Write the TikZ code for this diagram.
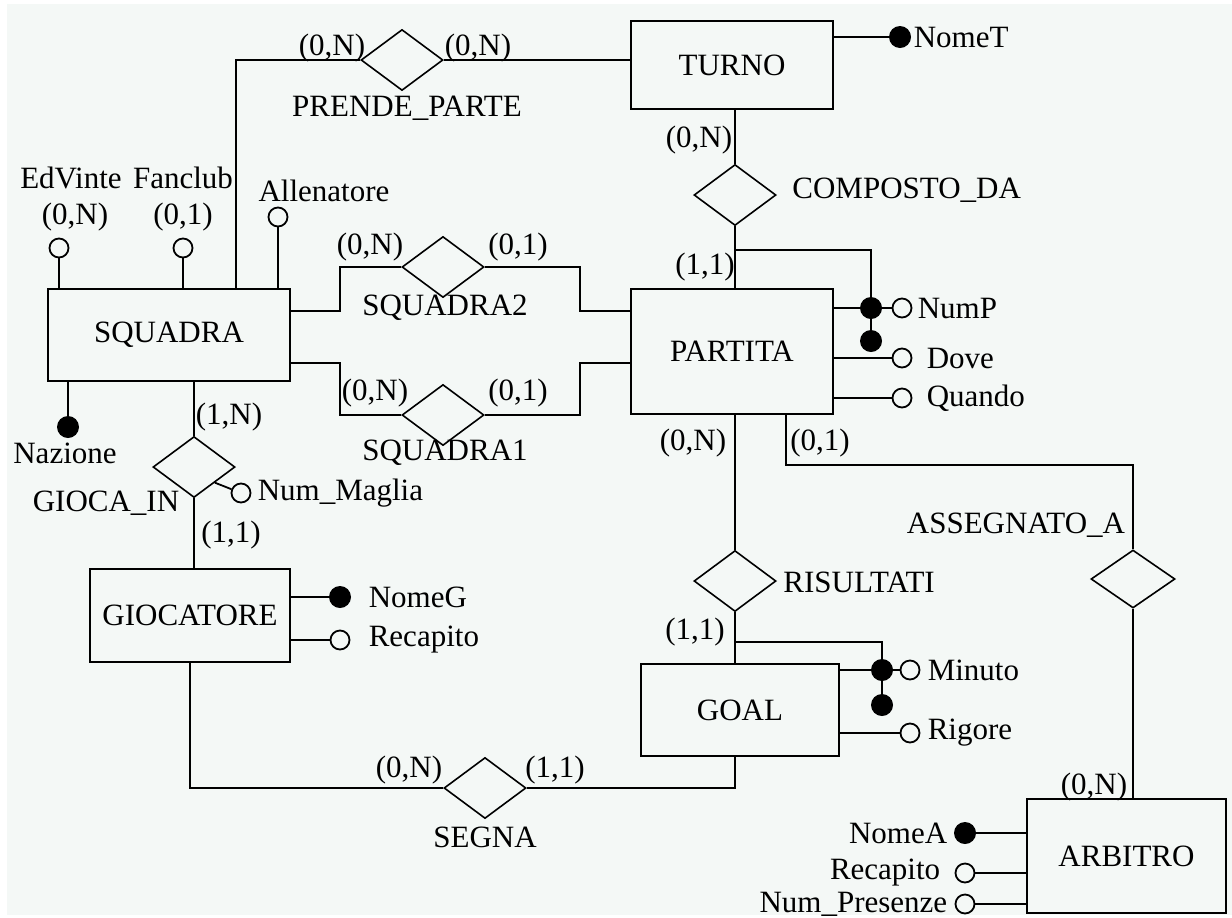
\documentclass[tikz,border=0pt]{standalone}
\usepackage{fontspec}
\setmainfont{Liberation Serif}
\usetikzlibrary{shapes.geometric,positioning}
\definecolor{sfondo}{RGB}{244,248,246}
\tikzset{
    EN/.style ={rectangle,draw,line width=1pt,fill=sfondo,font=\fontsize{15.5}{18}\selectfont},
    RE/.style ={diamond,draw,line width=0.8pt,inner sep=0pt,minimum width=41pt,minimum height=30.5pt},
    AO/.style ={circle,draw,line width=0.9pt,fill=sfondo,inner sep=0pt,minimum size=9.5pt},
    AK/.style ={circle,fill=black,inner sep=0pt,minimum size=11pt},
    TX/.style ={inner sep=1pt,font=\fontsize{15.5}{18}\selectfont},
    LN/.style ={line width=0.9pt}}
\begin{document}
\begin{tikzpicture}[x=0.5pt,y=-0.5pt]
        \useasboundingbox (0,0) rectangle (1232,917);
        \fill[white] (0,0) rectangle (1232,917);
        \fill[sfondo] (7,4) rectangle (1232,915);

        \node[EN,minimum width=101pt,minimum height=44pt] (TURNO) at (732,65) {TURNO};
        \node[EN,minimum width=101pt,minimum height=62.5pt] (PARTITA) at (732,351.5) {PARTITA};
        \node[EN,minimum width=121pt,minimum height=46pt] (SQUADRA) at (169,335) {SQUADRA};
        \node[EN,minimum width=100pt,minimum height=46.5pt] (GIOCATORE) at (190,615.5) {GIOCATORE};
        \node[EN,minimum width=99pt,minimum height=46pt] (GOAL) at (740,710) {GOAL};
        \node[EN,minimum width=99.5pt,minimum height=57pt] (ARBITRO) at (1126.5,856) {ARBITRO};

        \node[RE] (PP) at (402,60) {};
        \node[RE] (CD) at (735,195) {};
        \node[RE] (S2) at (443,267) {};
        \node[RE] (S1) at (443,415) {};
        \node[RE] (GI) at (194,467) {};
        \node[RE] (RI) at (735,581) {};
        \node[RE,minimum width=42pt,minimum height=29pt] (AS) at (1133,579) {};
        \node[RE] (SE) at (485,788) {};

        \node[TX] (lPP) at (407,108) {PRENDE\_PARTE};
        \node[TX,anchor=west] (lCD) at (790,190) {COMPOSTO\_DA};
        \node[TX] (lS2) at (445,308) {SQUADRA2};
        \node[TX] (lS1) at (445,453) {SQUADRA1};
        \node[TX] (lGI) at (106,503) {GIOCA\_IN};
        \node[TX,anchor=west] (lRI) at (781,582) {RISULTATI};
        \node[TX] (lAS) at (1016,525) {ASSEGNATO\_A};
        \node[TX] (lSE) at (485,837) {SEGNA};

        \draw[LN] ([xshift=33.5pt]SQUADRA.north) |- (PP.west);
        \draw[LN] (PP.east) -- (PP.east -| TURNO.west);
        \draw[LN] (CD.north) -- (CD.north |- TURNO.south);
        \draw[LN] (CD.south) -- (CD.south |- PARTITA.north);
        \draw[LN] (SQUADRA.east |- 0,311) -| (340,267) -- (S2.west);
        \draw[LN] (S2.east) -| (580,311) -- (PARTITA.west |- 0,311);
        \draw[LN] (SQUADRA.east |- 0,363) -| (340,415) -- (S1.west);
        \draw[LN] (S1.east) -| (580,363) -- (PARTITA.west |- 0,363);
        \draw[LN] (GI.north) -- (GI.north |- SQUADRA.south);
        \draw[LN] (GI.south) -- (GI.south |- GIOCATORE.north);
        \draw[LN] (GIOCATORE.south) |- (SE.west);
        \draw[LN] (SE.east) -| (RI.south |- GOAL.south);
        \draw[LN] (RI.north) -- (RI.north |- PARTITA.south);
        \draw[LN] (RI.south) -- (RI.south |- GOAL.north);
        \draw[LN] ([xshift=27pt]PARTITA.south) |- (AS.north |- 0,465) -- (AS.north);
        \draw[LN] (AS.south) -- (AS.south |- ARBITRO.north);

        \node[TX] (c1) at (332,48) {(0,N)};
        \node[TX] (c2) at (478,48) {(0,N)};
        \node[TX] (c3) at (699,140) {(0,N)};
        \node[TX] (c4) at (705,267) {(1,1)};
        \node[TX] (c5) at (370,247) {(0,N)};
        \node[TX] (c6) at (518,247) {(0,1)};
        \node[TX] (c7) at (375,393) {(0,N)};
        \node[TX] (c8) at (518,393) {(0,1)};
        \node[TX] (c9) at (229,417) {(1,N)};
        \node[TX] (c10) at (231,535) {(1,1)};
        \node[TX] (c11) at (693,443) {(0,N)};
        \node[TX] (c12) at (820,443) {(0,1)};
        \node[TX] (c13) at (695,632) {(1,1)};
        \node[TX] (c14) at (409,770) {(0,N)};
        \node[TX] (c15) at (555,770) {(1,1)};
        \node[TX] (c16) at (1094,787) {(0,N)};
        \node[TX] (c17) at (75,217) {(0,N)};
        \node[TX] (c18) at (183,217) {(0,1)};

        \node[AO] (aEdVinte) at (59,248) {};
        \node[AO] (aFanclub) at (183,248) {};
        \node[AO] (aAllenatore) at (278,217) {};
        \node[AK] (kNazione) at (68,427) {};
        \node[TX] (EdVinte) at (71,178) {EdVinte};
        \node[TX] (Fanclub) at (183,178) {Fanclub};
        \node[TX] (Allenatore) at (324,191) {Allenatore};
        \node[TX] (Nazione) at (65,453) {Nazione};
        \draw[LN] (aEdVinte) -- (aEdVinte |- SQUADRA.north);
        \draw[LN] (aFanclub) -- (aFanclub |- SQUADRA.north);
        \draw[LN] (aAllenatore) -- (aAllenatore |- SQUADRA.north);
        \draw[LN] (kNazione |- SQUADRA.south) -- (kNazione);

        \node[AO] (aNumMaglia) at (241,493) {};
        \node[TX,right=2pt of aNumMaglia] (NumMaglia) {Num\_Maglia};
        \draw[LN] (GI.south east) -- (aNumMaglia);

        \node[AK] (kNomeT) at (900,37) {};
        \node[TX,right=0pt of kNomeT] (NomeT) {NomeT};
        \draw[LN] (TURNO.east |- kNomeT) -- (kNomeT);

        \node[AK] (kP1) at (871,308) {};
        \node[AK] (kP2) at (871,341) {};
        \node[AO] (aNumP) at (902,308) {};
        \node[AO] (aDove) at (902,358) {};
        \node[AO] (aQuando) at (902,398) {};
        \node[TX,right=1.5pt of aNumP] (NumP) {NumP};
        \node[TX,right=6pt of aDove] (Dove) {Dove};
        \node[TX,right=6pt of aQuando] (Quando) {Quando};
        \draw[LN] (CD.south |- 0,250) -| (kP1) -- (kP2);
        \draw[LN] (PARTITA.east |- kP1) -- (kP1) -- (aNumP);
        \draw[LN] (PARTITA.east |- aDove) -- (aDove);
        \draw[LN] (PARTITA.east |- aQuando) -- (aQuando);

        \node[AK] (kG1) at (882,670) {};
        \node[AK] (kG2) at (882,705) {};
        \node[AO] (aMinuto) at (910,670) {};
        \node[AO] (aRigore) at (910,733) {};
        \node[TX,right=2.5pt of aMinuto] (Minuto) {Minuto};
        \node[TX,right=2.5pt of aRigore] (Rigore) {Rigore};
        \draw[LN] (RI.south |- 0,642) -| (kG1) -- (kG2);
        \draw[LN] (GOAL.east |- kG1) -- (kG1) -- (aMinuto);
        \draw[LN] (GOAL.east |- aRigore) -- (aRigore);

        \node[AK] (kNomeG) at (340,597) {};
        \node[AO] (aRecapitoG) at (340,640) {};
        \node[TX,right=7.5pt of kNomeG] (NomeG) {NomeG};
        \node[TX,right=8pt of aRecapitoG] (RecapitoG) {Recapito};
        \draw[LN] (GIOCATORE.east |- kNomeG) -- (kNomeG);
        \draw[LN] (GIOCATORE.east |- aRecapitoG) -- (aRecapitoG);

        \node[AK] (kNomeA) at (965,833) {};
        \node[AO] (aRecapitoA) at (965,873) {};
        \node[AO] (aNumPres) at (965,904) {};
        \node[TX,left=2pt of kNomeA] (NomeA) {NomeA};
        \node[TX,left=6pt of aRecapitoA] (RecapitoA) {Recapito};
        \node[TX,left=2.5pt of aNumPres] (NumPres) {Num\_Presenze};
        \draw[LN] (kNomeA) -- (kNomeA -| ARBITRO.west);
        \draw[LN] (aRecapitoA) -- (aRecapitoA -| ARBITRO.west);
        \draw[LN] (aNumPres) -- (aNumPres -| ARBITRO.west);
\end{tikzpicture}
\end{document}
